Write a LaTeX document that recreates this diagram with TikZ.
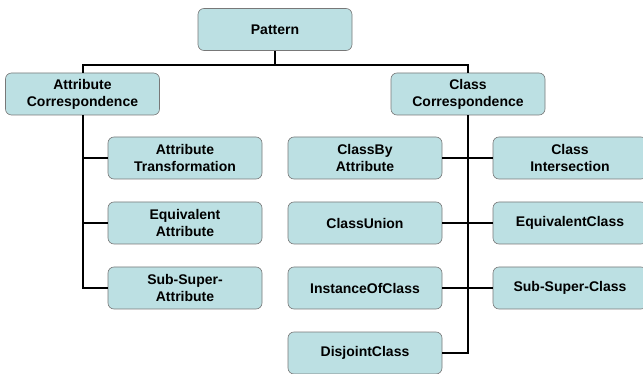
\documentclass[tikz,border=0pt]{standalone}
\usepackage{fontspec}
\setmainfont{Liberation Sans}
\usetikzlibrary{calc}
\definecolor{boxfill}{RGB}{188,224,227}
\definecolor{boxline}{RGB}{120,120,120}

\begin{document}
\begin{tikzpicture}[x=1pt, y=-1pt,
    box/.style={draw=boxline, line width=0.6pt, fill=boxfill, rounded corners=6pt,
      minimum width=154pt, minimum height=42pt, inner sep=0pt, align=center,
      font=\bfseries\fontsize{14}{17}\selectfont},
    conn/.style={draw=black, line width=2pt}]
      \useasboundingbox (0, 0) rectangle (643, 374);

      \node[box] (pat) at (275, 29.5) {Pattern};
      \node[box] (ac) at (82.5, 94) {Attribute\\Correspondence};
      \node[box] (cc) at (468, 94) {Class\\Correspondence};

      \node[box] (at) at (185, 158) {Attribute\\Transformation};
      \node[box] (ea) at (185, 223) {Equivalent\\Attribute};
      \node[box] (ssa) at (185, 288) {Sub-Super-\\Attribute};

      \node[box] (cba) at (365, 158) {ClassBy\\Attribute};
      \node[box] (cu) at (365, 223) {ClassUnion};
      \node[box] (ioc) at (365, 288) {InstanceOfClass};
      \node[box] (dc) at (365, 353) {DisjointClass};

      \node[box] (ci) at (570, 158) {Class\\Intersection};
      \node[box] (ec) at (570, 223) {EquivalentClass};
      \node[box] (ssc) at (570, 288) {Sub-Super-Class};

      \coordinate (bus) at ($(pat.south) + (0, 14.5)$);
      \draw[conn] (pat.south) -- (bus);
      \draw[conn] (ac.north) |- (bus) -| (cc.north);

      \draw[conn] (ac.south) |- (ssa.west);
      \draw[conn] (ac.south |- at.west) -- (at.west);
      \draw[conn] (ac.south |- ea.west) -- (ea.west);

      \draw[conn] (cc.south) |- (dc.east);
      \draw[conn] (cba.east) -- (ci.west);
      \draw[conn] (cu.east) -- (ec.west);
      \draw[conn] (ioc.east) -- (ssc.west);
    \end{tikzpicture}
\end{document}
